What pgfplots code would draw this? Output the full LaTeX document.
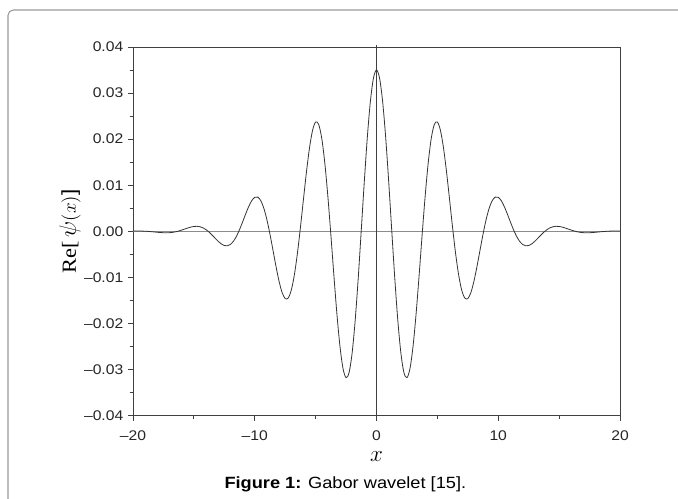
\documentclass[border=0pt]{standalone}
\usepackage{fontspec}
\setmainfont{Liberation Sans}[FakeStretch=1.12]
\newfontfamily\seriffont{Liberation Serif}[FakeStretch=1.12]
\usepackage{pgfplots}
\pgfplotsset{compat=1.18}
\begin{document}
\begin{tikzpicture}
\useasboundingbox (0,0) rectangle (508.5pt,374.25pt);
\draw[line width=0.8pt, color=black!40, rounded corners=4pt] (6pt,-20pt) rectangle (530pt,366.75pt);
\begin{axis}[
  scale only axis,
  width=365.25pt, height=276.5pt,
  at={(99.75pt,62.5pt)}, anchor=south west,
  xmin=-20, xmax=20, ymin=-0.04, ymax=0.04,
  scaled y ticks=false, scaled x ticks=false,
  axis line style={black!75, line width=0.7pt},
  xtick={-20,-10,0,10,20},
  xticklabels={\textendash20,\textendash10,0,10,20},
  ytick={-0.04,-0.03,-0.02,-0.01,0,0.01,0.02,0.03,0.04},
  yticklabels={\textendash0.04,\textendash0.03,\textendash0.02,\textendash0.01,0.00,0.01,0.02,0.03,0.04},
  minor x tick num=1, minor y tick num=1,
  tick align=outside, xtick pos=bottom, ytick pos=left,
  major tick length=3.75pt, minor tick length=2.6pt,
  tick style={black!75, line width=0.6pt},
  ticklabel style={font=\fontsize{10.5}{12}\selectfont, text=black!85},
  xticklabel style={inner sep=1pt, yshift=-6pt},
  xlabel={$x$},
  xlabel style={at={(axis description cs:0.5,-0.097)}, anchor=north, inner sep=0pt, font=\fontsize{17}{18}\selectfont},
  ylabel={{\seriffont Re[}\,$\scalebox{1.25}{$\psi$}(x)$]},
  ylabel style={at={(axis description cs:-0.1294,0.5)}, anchor=center, font=\fontsize{15}{17}\selectfont},
  clip=false,
]
\addplot[black!45, line width=1.1pt] coordinates {(-20,0) (20,0)};
\addplot[black!75, line width=0.5pt] coordinates {(0,-0.04) (0,0.0405)};
\addplot[black!80, line width=0.6pt, smooth] table {
x y
-20 0.000070
-19.75 0.000074
-19.5 0.000069
-19.25 0.000053
-19 0.000024
-18.75 -0.000019
-18.5 -0.000073
-18.25 -0.000135
-18 -0.000200
-17.75 -0.000258
-17.5 -0.000299
-17.25 -0.000313
-17 -0.000290
-16.75 -0.000222
-16.5 -0.000104
-16.25 0.000062
-16 0.000268
-15.75 0.000497
-15.5 0.000726
-15.25 0.000924
-15 0.001058
-14.75 0.001094
-14.5 0.001001
-14.25 0.000761
-14 0.000366
-13.75 -0.000169
-13.5 -0.000811
-13.25 -0.001505
-13 -0.002174
-12.75 -0.002731
-12.5 -0.003082
-12.25 -0.003142
-12 -0.002842
-11.75 -0.002146
-11.5 -0.001058
-11.25 0.000366
-11 0.002019
-10.75 0.003747
-10.5 0.005358
-10.25 0.006642
-10 0.007392
-9.75 0.007431
-9.5 0.006640
-9.25 0.004978
-9 0.002504
-8.75 -0.000619
-8.5 -0.004128
-8.25 -0.007678
-8 -0.010871
-7.75 -0.013301
-7.5 -0.014595
-7.25 -0.014470
-7 -0.012770
-6.75 -0.009504
-6.5 -0.004862
-6.25 0.000791
-6 0.006937
-5.75 0.012950
-5.5 0.018161
-5.25 0.021931
-5 0.023728
-4.75 0.023198
-4.5 0.020218
-4.25 0.014932
-4 0.007744
-3.75 -0.000700
-3.5 -0.009579
-3.25 -0.017975
-3 -0.024974
-2.75 -0.029770
-2.5 -0.031758
-2.25 -0.030618
-2 -0.026351
-1.75 -0.019302
-1.5 -0.010124
-1.25 0.000283
-1 0.010866
-0.75 0.020533
-0.5 0.028274
-0.25 0.033273
0 0.035000
0.25 0.033273
0.5 0.028274
0.75 0.020533
1 0.010866
1.25 0.000283
1.5 -0.010124
1.75 -0.019302
2 -0.026351
2.25 -0.030618
2.5 -0.031758
2.75 -0.029770
3 -0.024974
3.25 -0.017975
3.5 -0.009579
3.75 -0.000700
4 0.007744
4.25 0.014932
4.5 0.020218
4.75 0.023198
5 0.023728
5.25 0.021931
5.5 0.018161
5.75 0.012950
6 0.006937
6.25 0.000791
6.5 -0.004862
6.75 -0.009504
7 -0.012770
7.25 -0.014470
7.5 -0.014595
7.75 -0.013301
8 -0.010871
8.25 -0.007678
8.5 -0.004128
8.75 -0.000619
9 0.002504
9.25 0.004978
9.5 0.006640
9.75 0.007431
10 0.007392
10.25 0.006642
10.5 0.005358
10.75 0.003747
11 0.002019
11.25 0.000366
11.5 -0.001058
11.75 -0.002146
12 -0.002842
12.25 -0.003142
12.5 -0.003082
12.75 -0.002731
13 -0.002174
13.25 -0.001505
13.5 -0.000811
13.75 -0.000169
14 0.000366
14.25 0.000761
14.5 0.001001
14.75 0.001094
15 0.001058
15.25 0.000924
15.5 0.000726
15.75 0.000497
16 0.000268
16.25 0.000062
16.5 -0.000104
16.75 -0.000222
17 -0.000290
17.25 -0.000313
17.5 -0.000299
17.75 -0.000258
18 -0.000200
18.25 -0.000135
18.5 -0.000073
18.75 -0.000019
19 0.000024
19.25 0.000053
19.5 0.000069
19.75 0.000074
20 0.000070
};
\end{axis}
\node[anchor=center, font=\fontsize{12.2}{14}\selectfont] at (259pt,11.25pt) {\textbf{Figure 1:} Gabor wavelet [15].};
\end{tikzpicture}
\end{document}
